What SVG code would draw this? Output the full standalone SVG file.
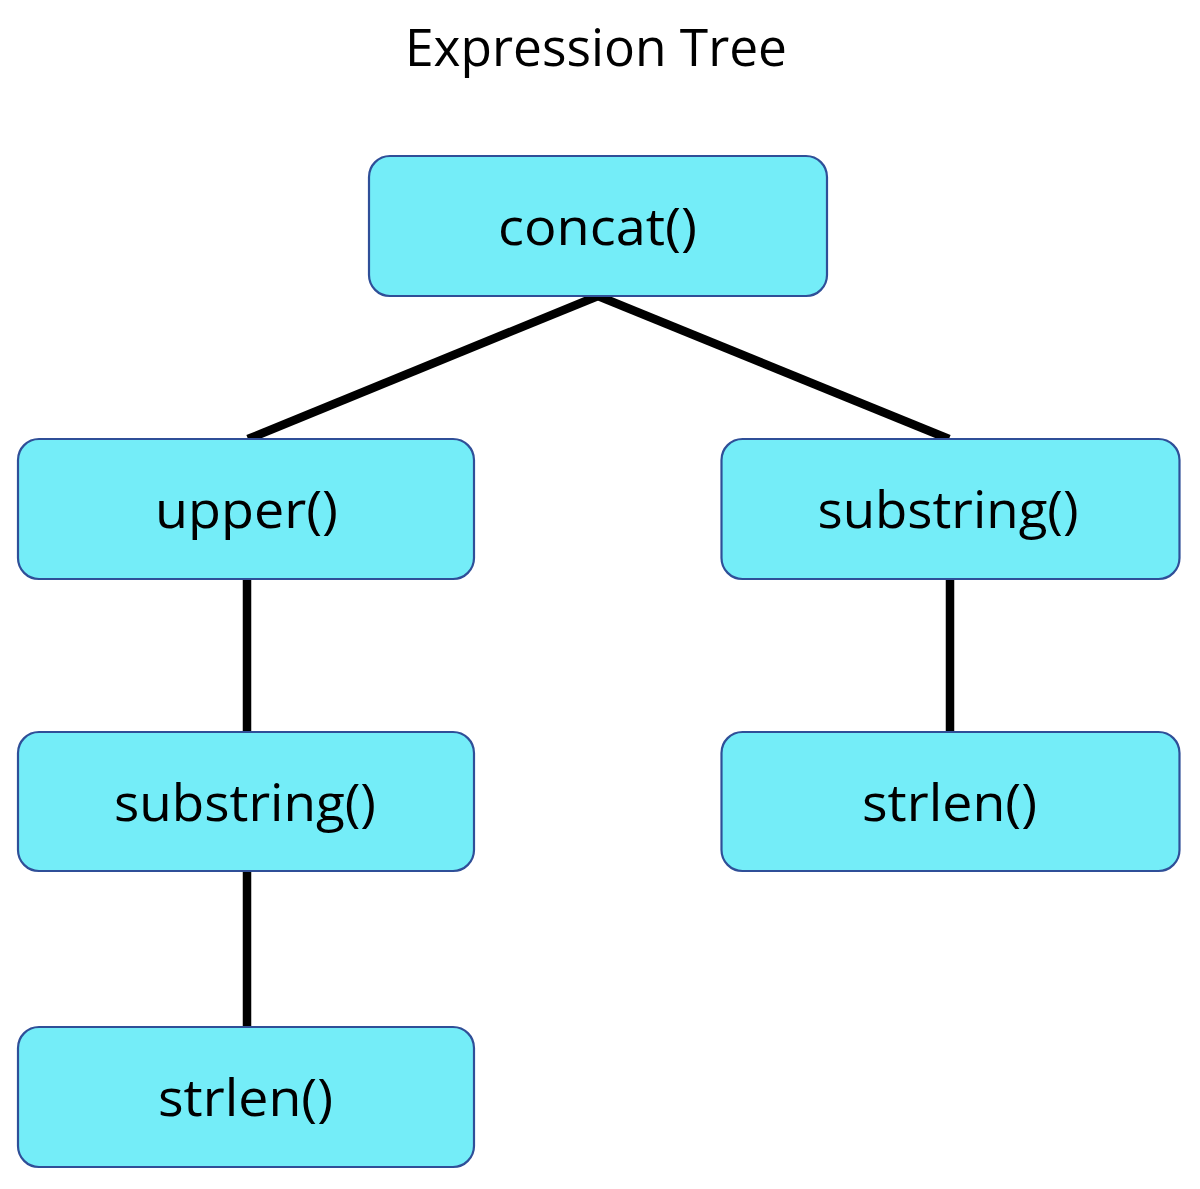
<svg xmlns="http://www.w3.org/2000/svg" width="1200" height="1189" viewBox="0 0 1200 1189">
<style>
.node rect{fill:#74EDF8;stroke:#2F4F98;stroke-width:2.2}
.node text{font-family:"Open Sans","Liberation Sans",sans-serif;font-size:52px;fill:#000;text-anchor:middle}
.title{font-family:"Open Sans","Liberation Sans",sans-serif;font-size:51px;fill:#000;text-anchor:middle}
.conn line{stroke:#000;stroke-width:8.5;stroke-linecap:butt}
</style>
<rect width="1200" height="1189" fill="#fff"/>
<text class="title" x="596" y="66" textLength="382" lengthAdjust="spacingAndGlyphs">Expression Tree</text>
<g id="connectors" class="conn">
<line x1="598" y1="296" x2="248" y2="439"/>
<line x1="598" y1="296" x2="949" y2="439"/>
<line x1="247" y1="579" x2="247" y2="732"/>
<line x1="247" y1="871" x2="247" y2="1027"/>
<line x1="950" y1="579" x2="950" y2="732"/>
</g>
<g id="n-concat" class="node">
<rect x="369" y="156" width="458" height="140" rx="21"/>
<text x="597.5" y="245" textLength="199" lengthAdjust="spacingAndGlyphs">concat()</text>
</g>
<g id="n-upper" class="node">
<rect x="18" y="439" width="456" height="140" rx="21"/>
<text x="246.5" y="528" textLength="183" lengthAdjust="spacingAndGlyphs">upper()</text>
</g>
<g id="n-substring-right" class="node">
<rect x="721.5" y="439" width="458" height="140" rx="21"/>
<text x="948" y="528" textLength="261" lengthAdjust="spacingAndGlyphs">substring()</text>
</g>
<g id="n-substring-left" class="node">
<rect x="18" y="732" width="456" height="139" rx="21"/>
<text x="245" y="821" textLength="262" lengthAdjust="spacingAndGlyphs">substring()</text>
</g>
<g id="n-strlen-right" class="node">
<rect x="721.5" y="732" width="458" height="139" rx="21"/>
<text x="949.5" y="821" textLength="175" lengthAdjust="spacingAndGlyphs">strlen()</text>
</g>
<g id="n-strlen-left" class="node">
<rect x="18" y="1027" width="456" height="140" rx="21"/>
<text x="245.5" y="1116" textLength="175" lengthAdjust="spacingAndGlyphs">strlen()</text>
</g>
</svg>
